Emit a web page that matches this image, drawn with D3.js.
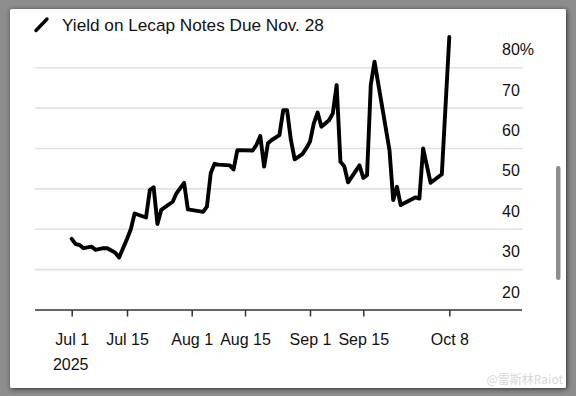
<!DOCTYPE html>
<html>
<head>
<meta charset="utf-8">
<title>Yield on Lecap Notes Due Nov. 28</title>
<script src="https://cdn.jsdelivr.net/npm/d3@7"></script>
<style>
html, body {
  margin: 0;
  height: 100%;
  background: #8d8d8d;
}
svg {
  display: block;
  font-family: "Liberation Sans", Arial, Helvetica, sans-serif;
}
</style>
</head>
<body>
<svg width="576" height="396"></svg>
<script>
// yield, %
var dates = ["2025-07-01","2025-07-02","2025-07-03","2025-07-04","2025-07-05","2025-07-06","2025-07-07",
  "2025-07-09","2025-07-10","2025-07-12","2025-07-13","2025-07-15","2025-07-16","2025-07-17",
  "2025-07-20","2025-07-21","2025-07-22","2025-07-23","2025-07-24","2025-07-27","2025-07-28",
  "2025-07-30","2025-07-31","2025-08-04","2025-08-05","2025-08-06","2025-08-07","2025-08-08",
  "2025-08-11","2025-08-12","2025-08-13","2025-08-17","2025-08-18","2025-08-19","2025-08-20",
  "2025-08-21","2025-08-22","2025-08-24","2025-08-25","2025-08-26","2025-08-27","2025-08-28",
  "2025-08-30","2025-08-31","2025-09-01","2025-09-02","2025-09-03","2025-09-04","2025-09-06",
  "2025-09-07","2025-09-08","2025-09-09","2025-09-10","2025-09-11","2025-09-14","2025-09-15",
  "2025-09-16","2025-09-17","2025-09-18","2025-09-22","2025-09-23","2025-09-24","2025-09-25",
  "2025-09-29","2025-09-30","2025-10-01","2025-10-03","2025-10-06","2025-10-08"];
var yields = [37.6,36.3,36.1,35.3,35.5,35.7,34.9,
  35.3,35.3,34.2,33.0,37.6,40.0,43.9,
  42.9,49.7,50.4,41.3,44.8,46.8,48.9,
  51.5,44.9,44.3,45.6,53.9,56.2,56.0,
  55.8,54.8,59.6,59.5,60.9,63.1,55.5,
  61.3,62.1,63.3,69.5,69.5,62.1,57.3,
  58.6,60.0,61.7,66.2,68.9,65.4,67.0,
  68.7,75.7,56.7,55.6,51.6,55.8,52.7,
  53.4,75.7,81.5,59.6,47.2,50.5,46.0,
  47.9,47.6,60.0,51.5,53.6,87.6];

var tickDates = ["2025-07-01","2025-07-15","2025-08-01","2025-08-15","2025-09-01","2025-09-15","2025-10-08"];
var tickLabels = ["Jul 1","Jul 15","Aug 1","Aug 15","Sep 1","Sep 15","Oct 8"];
var yTicks = [20, 30, 40, 50, 60, 70, 80];
var title = "Yield on Lecap Notes Due Nov. 28";

var parse = d3.timeParse("%Y-%m-%d");
var data = dates.map(function(d, i) { return {date: parse(d), v: yields[i]}; });

var svg = d3.select("svg");

// card + shadow
var defs = svg.append("defs");
var f = defs.append("filter").attr("id", "sh").attr("x", "-5%").attr("y", "-5%").attr("width", "110%").attr("height", "110%");
f.append("feDropShadow").attr("dx", 1).attr("dy", 1).attr("stdDeviation", 2.5).attr("flood-color", "#222").attr("flood-opacity", 0.9);
svg.append("rect").attr("x", 10).attr("y", 9).attr("width", 556).attr("height", 379)
  .attr("rx", 2).attr("fill", "#fff").attr("filter", "url(#sh)");

// scales: time scale pinned to the printed ticks (chart is not quite linear)
var x = d3.scaleTime()
  .domain(tickDates.map(parse))
  .range([71.7, 127, 191.7, 245, 310, 363.3, 449.3]);
var y = d3.scaleLinear().domain([20, 80]).range([310, 67.7]);

var left = 35, right = 522;

// grid
svg.append("g").selectAll("line")
  .data(yTicks.slice(1))
  .enter().append("line")
    .attr("x1", left).attr("x2", right + 1)
    .attr("y1", function(d) { return y(d); })
    .attr("y2", function(d) { return y(d); })
    .attr("stroke", "#e1e1e1")
    .attr("stroke-width", 1.6);

// y labels sit above their grid lines
svg.append("g").selectAll("text")
  .data(yTicks)
  .enter().append("text")
    .attr("x", 502)
    .attr("y", function(d) { return y(d) - 12.5; })
    .attr("font-size", 16)
    .attr("fill", "#111")
    .text(function(d) { return d === 80 ? d + "%" : d; });

// x axis
var xAxis = d3.axisBottom(x)
  .tickValues(tickDates.map(parse))
  .tickSize(6.5)
  .tickPadding(0)
  .tickFormat(function(d, i) { return tickLabels[i]; });

var gx = svg.append("g")
  .attr("transform", "translate(0," + y(20) + ")")
  .call(xAxis);
gx.select(".domain").remove();
gx.selectAll(".tick line").attr("stroke", "#333").attr("stroke-width", 1.5);
gx.selectAll(".tick text")
  .attr("y", 35).attr("dy", 0)
  .attr("font-family", "Liberation Sans, Arial, sans-serif")
  .attr("font-size", 16)
  .attr("fill", "#111");
svg.append("line")
  .attr("x1", left).attr("x2", right)
  .attr("y1", y(20)).attr("y2", y(20))
  .attr("stroke", "#333").attr("stroke-width", 1.6);
svg.append("text")
  .attr("x", x(parse("2025-07-01")) - 1)
  .attr("y", 370)
  .attr("text-anchor", "middle")
  .attr("font-size", 16)
  .attr("fill", "#111")
  .text("2025");

// line
var line = d3.line()
  .x(function(d) { return x(d.date); })
  .y(function(d) { return y(d.v); });

svg.append("path")
  .datum(data)
  .attr("d", line)
  .attr("fill", "none")
  .attr("stroke", "#000")
  .attr("stroke-width", 3.9)
  .attr("stroke-linejoin", "round")
  .attr("stroke-linecap", "round");

// legend
svg.append("line")
  .attr("x1", 36).attr("y1", 30.5).attr("x2", 47).attr("y2", 19)
  .attr("stroke", "#000").attr("stroke-width", 3.4).attr("stroke-linecap", "round");
svg.append("text")
  .attr("x", 62).attr("y", 31)
  .attr("font-size", 17.2)
  .attr("fill", "#111")
  .text(title);

// scrollbar
svg.append("rect").attr("x", 556).attr("y", 166).attr("width", 4.5).attr("height", 114)
  .attr("rx", 2.2).attr("fill", "#8e8e8e");

// watermark
svg.append("text")
  .attr("x", 563).attr("y", 384)
  .attr("text-anchor", "end")
  .attr("font-family", "Noto Sans CJK SC, sans-serif")
  .attr("font-size", 12)
  .attr("fill", "#d8d8d8")
  .text("@雷斯林Raiot");
</script>
</body>
</html>
